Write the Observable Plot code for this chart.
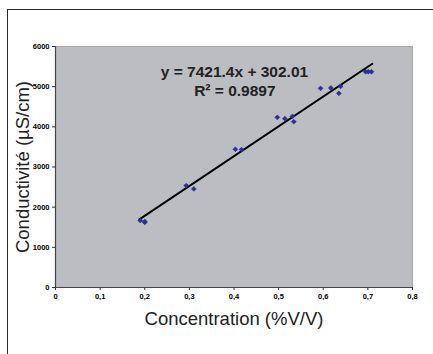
<!DOCTYPE html>
<html>
<head>
<meta charset="utf-8">
<script src="https://cdn.jsdelivr.net/npm/d3@7"></script>
<script src="https://cdn.jsdelivr.net/npm/@observablehq/plot@0.6"></script>
<style>
  html, body { margin: 0; padding: 0; background: #fff; }
  #wrap { position: relative; width: 433px; height: 354px; overflow: hidden; font-family: "Liberation Sans", Arial, sans-serif; }
  #border { position: absolute; left: 7px; top: 9px; right: -5px; bottom: -5px; border-left: 1.6px solid #2a2a2a; border-top: 1.6px solid #2a2a2a; pointer-events: none; }
</style>
</head>
<body>
<div id="wrap"><div id="border"></div></div>
<script>
const concentration = [0.19, 0.20, 0.20, 0.293, 0.31, 0.403, 0.417, 0.497, 0.514, 0.531, 0.534, 0.594, 0.617, 0.635, 0.639, 0.695, 0.701, 0.708];
const conductivity  = [1667, 1642, 1620, 2537, 2455, 3440, 3433, 4236, 4204, 4261, 4129, 4958, 4967, 4833, 5007, 5373, 5373, 5373];
const slope = 7421.4;
const intercept = 302.01;
const trendRange = [0.188, 0.71];
const xTicks = [0, 0.1, 0.2, 0.3, 0.4, 0.5, 0.6, 0.7, 0.8];
const yTicks = [0, 1000, 2000, 3000, 4000, 5000, 6000];
const equationText = "y = 7421.4x + 302.01";
const r2Text = "R² = 0.9897";
const xTitle = "Concentration (%V/V)";
const yTitle = "Conductivité (µS/cm)";

const points = concentration.map((c, i) => ({c, v: conductivity[i]}));
const trend = trendRange.map(c => ({c, v: slope * c + intercept}));

const chart = Plot.plot({
  width: 433,
  height: 354,
  marginLeft: 55,
  marginRight: 21,
  marginTop: 46,
  marginBottom: 67,
  style: {fontFamily: "'Liberation Sans', Arial, sans-serif", background: "transparent", overflow: "visible"},
  x: {domain: [0, 0.8], ticks: xTicks, label: null, tickSize: 3,
      tickFormat: d => d === 0 ? "0" : d.toFixed(1).replace(".", ",")},
  y: {domain: [0, 6000], ticks: yTicks, label: null, tickSize: 3, tickFormat: d => String(d)},
  marks: [
    Plot.frame({fill: "#bcbdc0", stroke: "#a9aaac"}),
    Plot.axisX({ticks: xTicks, tickSize: 3, tickPadding: 3, fontSize: 7.5, fontWeight: "bold", stroke: "#333",
      tickFormat: d => d === 0 ? "0" : d.toFixed(1).replace(".", ",")}),
    Plot.axisY({ticks: yTicks, tickSize: 3, tickPadding: 3, fontSize: 7.5, fontWeight: "bold", stroke: "#333",
      tickFormat: d => String(d)}),
    Plot.ruleX([0], {stroke: "#444", strokeWidth: 1.2}),
    Plot.ruleY([0], {stroke: "#444", strokeWidth: 1.2}),
    Plot.line(trend, {x: "c", y: "v", stroke: "#000", strokeWidth: 2}),
    Plot.dot(points, {x: "c", y: "v", symbol: "diamond2", r: 2.2, fill: "#2c2c9c", stroke: "#2c2c9c", strokeWidth: 0.6}),
    Plot.text([equationText], {x: 0.401, y: 5360, fontSize: 15.5, fontWeight: "bold", fill: "#222"}),
    Plot.text([r2Text], {x: 0.402, y: 4880, fontSize: 15.5, fontWeight: "bold", fill: "#222"}),
    Plot.text([xTitle], {frameAnchor: "bottom", dy: 37, fontSize: 18.5, fill: "#222"}),
    Plot.text([yTitle], {frameAnchor: "left", textAnchor: "middle", dx: -32, rotate: -90, fontSize: 18.5, fill: "#222"})
  ]
});
document.getElementById("wrap").appendChild(chart);
chart.style.position = "absolute";
chart.style.left = "0";
chart.style.top = "0";
</script>
</body>
</html>
